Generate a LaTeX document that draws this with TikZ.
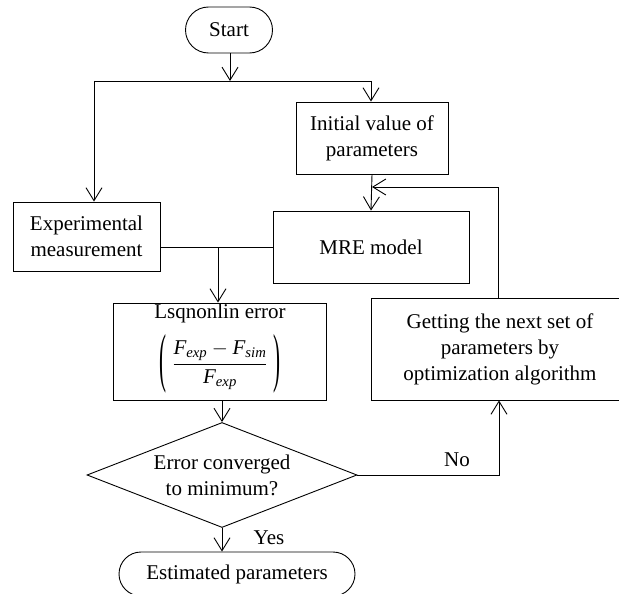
\documentclass[tikz,border=0pt]{standalone}
\usepackage{amsmath}
\usepackage{graphicx}
\usepackage{fontspec}
\setmainfont{Liberation Serif}
\usetikzlibrary{arrows.meta,shapes.geometric}
\newcommand{\tallparen}[1]{\vcenter{\hbox{\scalebox{1}[3.1]{#1}}}}
\begin{document}
\begin{tikzpicture}[x=1pt,y=-1pt,
  line width=0.9pt,
  every node/.style={font=\fontsize{21}{26}\selectfont, align=center, inner sep=0pt},
  arr/.style={-{Straight Barb[length=13pt,width=16pt,line width=0.9pt]}},
  box/.style={draw, rectangle},
  term/.style={draw, rectangle, rounded corners=#1},
  dia/.style={draw, diamond, minimum width=270pt, minimum height=105pt}]
\clip (0,0) rectangle (619,594);
\fill[white] (0,0) rectangle (619,594);
% nodes
\node[term=23pt, minimum width=87pt, minimum height=46pt] (start) at (229,30) {Start};
\node[box, minimum width=152pt, minimum height=72pt] (init) at (372,138) {Initial value of\\parameters};
\node[box, minimum width=147pt, minimum height=69pt] (exp) at (86.5,236.5) {Experimental\\measurement};
\node[box, minimum width=196pt, minimum height=72pt] (mre) at (371,247) {MRE model};
\node[box, minimum width=213pt, minimum height=97pt] (lsq) at (220,351.5) {};
\node (lsqt) at (220,313) {Lsqnonlin error};
\node (lsqf) at (220,364)
  {$\tallparen{(}\;\dfrac{\textit{F}_{\textit{exp}}-\textit{F}_{\textit{sim}}}{\textit{F}_{\textit{exp}}}\;\tallparen{)}$};
\node[box, minimum width=258pt, minimum height=102pt] (get) at (500,349) {};
\node (gett) at (500,349) {Getting the next set of\\parameters by\\optimization algorithm};
\node[dia] (dec) at (222,475) {};
\node (dect) at (222,475) {Error converged\\to minimum?};
\node[term=22pt, minimum width=236pt, minimum height=44pt] (est) at (237,574) {Estimated parameters};
% labels
\node (no) at (457,460) {No};
\node (yes) at (269,538) {Yes};
% coordinates
\coordinate (jt) at (230,81);
\coordinate (jl) at (94,81);
\coordinate (jr) at (371,81);
\coordinate (fb) at (372,187);
\coordinate (jm) at (218,247);
% connectors
\draw[arr] (start.south -| jt) -- (jt);
\draw (jl) -- (jr);
\draw[arr] (jl) -- (jl |- exp.north);
\draw[arr] (jr) -- (jr |- init.north);
\draw[arr] (init.south) -- (mre.north);
\draw[arr] ([xshift=-2pt]get.north) |- (fb);
\draw (exp.east |- mre.west) -- (mre.west);
\draw[arr] (jm) -- (jm |- lsq.north);
\draw[arr] (dec.north |- lsq.south) -- (dec.north);
\draw[arr] (dec.east) -| ([xshift=-1pt]get.south);
\draw[arr] (dec.south) -- (dec.south |- est.north);
\end{tikzpicture}
\end{document}
